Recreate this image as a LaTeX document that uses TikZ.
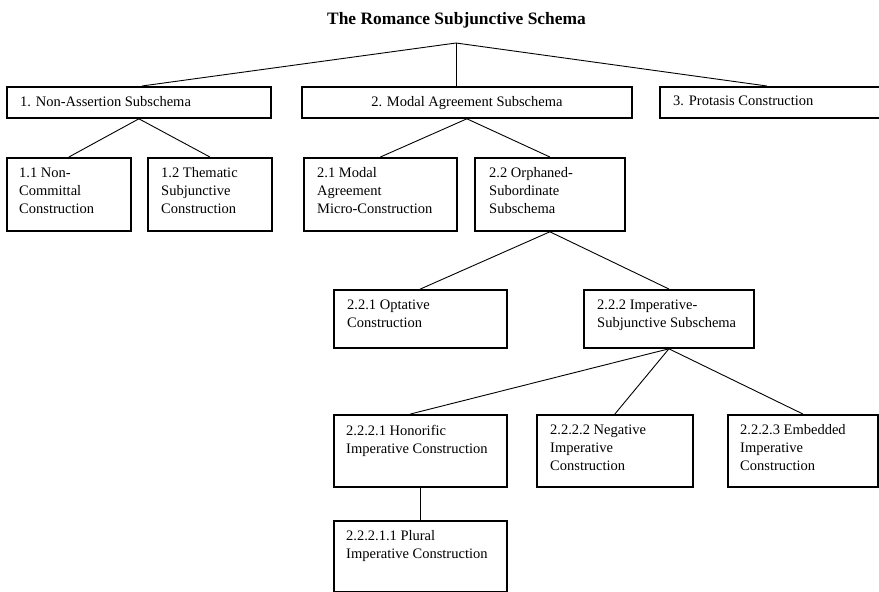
\documentclass[tikz,border=0pt]{standalone}
\usepackage{fontspec}
\setmainfont{Liberation Serif}
\usetikzlibrary{calc}
\tikzset{
  box/.style={draw=black, line width=1.8pt, rectangle, inner sep=0pt, fill=none},
  txt/.style={inner sep=0pt, align=left, font=\fontsize{14.5}{18}\selectfont, text=black},
  conn/.style={draw=black, line width=0.9pt},
}
\newcommand\mkbox[5]{%
  \node[box, anchor=north west, minimum width={#4-#2}, minimum height={#5-#3}] (#1) at (#2,#3) {};}
\begin{document}
\begin{tikzpicture}[x=1pt,y=-1pt]
\useasboundingbox (0,0) rectangle (879,592);
\fill[white] (0,0) rectangle (879,592);
\clip (0,0) rectangle (879,592);

\node[anchor=base, inner sep=0pt, font=\fontsize{17.4}{20}\selectfont\bfseries] (title) at (456.5,24) {The Romance Subjunctive Schema};
\coordinate (root) at (456,43);

% boxes
\mkbox{b1}{6}{86}{270}{117}
\mkbox{b2}{301}{86}{631}{117}
\mkbox{b3}{659}{86}{889}{117}
\mkbox{b11}{6}{157}{130}{230}
\mkbox{b12}{147}{157}{271}{230}
\mkbox{b21}{303}{157}{456}{230}
\mkbox{b22}{474}{157}{624}{230}
\mkbox{b221}{333}{289}{506}{347}
\mkbox{b222}{583}{289}{753}{347}
\mkbox{b2221}{333}{414}{506}{486}
\mkbox{b2222}{536}{414}{692}{486}
\mkbox{b2223}{727}{414}{877}{486}
\mkbox{b22211}{333}{520}{506}{591}

% texts
\node[txt, anchor=north west] (t1) at ($(b1.north west)+(14,9.8)$) {1. Non-Assertion Subschema};
\node[txt, anchor=north] (t2) at ($(b2.north)+(0,9.8)$) {2. Modal Agreement Subschema};
\node[txt, anchor=north west] (t3) at ($(b3.north west)+(14,9.8)$) {3. Protasis Construction};
\node[txt, anchor=north west] (t11) at ($(b11.north west)+(13,10.6)$) {1.1 Non-\\Committal\\Construction};
\node[txt, anchor=north west] (t12) at ($(b12.north west)+(14,10.6)$) {1.2 Thematic\\Subjunctive\\Construction};
\node[txt, anchor=north west] (t21) at ($(b21.north west)+(14,10.6)$) {2.1 Modal\\Agreement\\Micro-Construction};
\node[txt, anchor=north west] (t22) at ($(b22.north west)+(15,10.6)$) {2.2 Orphaned-\\Subordinate\\Subschema};
\node[txt, anchor=north west] (t221) at ($(b221.north west)+(14,10.6)$) {2.2.1 Optative\\Construction};
\node[txt, anchor=north west] (t222) at ($(b222.north west)+(14,10.6)$) {2.2.2 Imperative-\\Subjunctive Subschema};
\node[txt, anchor=north west] (t2221) at ($(b2221.north west)+(13,10.6)$) {2.2.2.1 Honorific\\Imperative Construction};
\node[txt, anchor=north west] (t2222) at ($(b2222.north west)+(14,10.6)$) {2.2.2.2 Negative\\Imperative\\Construction};
\node[txt, anchor=north west] (t2223) at ($(b2223.north west)+(13,10.6)$) {2.2.2.3 Embedded\\Imperative\\Construction};
\node[txt, anchor=north west] (t22211) at ($(b22211.north west)+(13,10.6)$) {2.2.2.1.1 Plural\\Imperative Construction};

% connectors
\draw[conn] (root) -- ([xshift=3pt]b1.north);
\draw[conn, line width=0.7pt] (root) -- (root |- b2.north);
\draw[conn] (root) -- ([xshift=-8pt]b3.north);
\draw[conn] (b1.south) -- (b11.north);
\draw[conn] (b1.south) -- (b12.north);
\draw[conn] (b2.south) -- (b21.north);
\draw[conn] (b2.south) -- (b22.north);
\draw[conn] (b22.south) -- (b221.north);
\draw[conn] (b22.south) -- (b222.north);
\draw[conn] (b222.south) -- ([xshift=-10pt]b2221.north);
\draw[conn] (b222.south) -- (b2222.north);
\draw[conn] (b222.south) -- (b2223.north);
\draw[conn] (b2221.south) -- (b22211.north);
\end{tikzpicture}
\end{document}
